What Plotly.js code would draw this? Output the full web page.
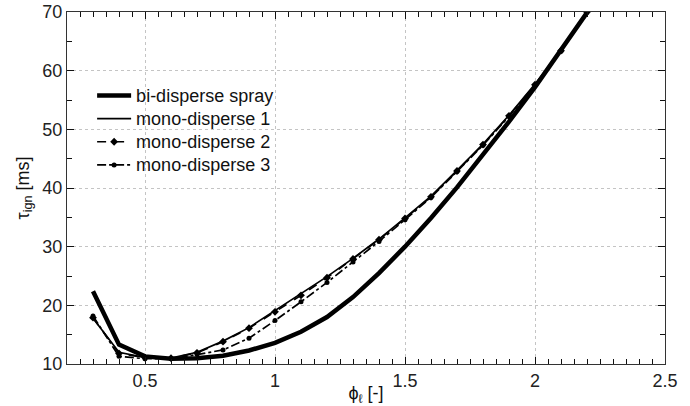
<!DOCTYPE html>
<html>
<head>
<meta charset="utf-8">
<script src="https://cdn.plot.ly/plotly-3.0.1.min.js"></script>
<style>html,body{margin:0;padding:0;background:#fff;}#chart{width:690px;height:406px;}</style>
</head>
<body>
<div id="chart"></div>
<script>
// equivalence ratio phi_l [-]
var phi = [0.3, 0.4, 0.5, 0.6, 0.7, 0.8, 0.9, 1.0, 1.1, 1.2, 1.3, 1.4, 1.5, 1.6, 1.7, 1.8, 1.9, 2.0, 2.1, 2.2];
// ignition delay tau_ign [ms]
var biDisperse   = [22.4, 13.3, 11.3, 10.9, 11.0, 11.4, 12.3, 13.6, 15.5, 18.0, 21.4, 25.5, 30.0, 34.9, 40.1, 45.6, 51.3, 57.2, 63.4, 69.9];
var monoDisp1    = [17.8, 12.0, 11.1, 11.0, 12.0, 13.9, 16.2, 19.1, 21.9, 24.9, 28.0, 31.3, 34.9, 38.6, 43.0, 47.5, 52.4, 57.7, 63.5, 70.0];
var monoDisp2    = [17.9, 11.8, 11.1, 11.0, 11.9, 13.8, 16.1, 18.9, 21.7, 24.7, 27.9, 31.2, 34.8, 38.5, 42.9, 47.4, 52.3, 57.6, 63.4, 70.0];
var monoDisp3    = [18.2, 11.3, 10.9, 10.9, 11.6, 12.4, 14.4, 17.4, 20.6, 23.9, 27.4, 30.9, 34.6, 38.4, 42.8, 47.3, 52.2, 57.5, 63.3, 70.0];
var seriesNames  = ["bi-disperse spray", "mono-disperse 1", "mono-disperse 2", "mono-disperse 3"];

var FONT = "Liberation Sans, Arial, sans-serif";
function legendName(s) { return '<span style="font-size:18px">' + s + '</span>'; }

var traces = [
  {x: phi, y: biDisperse, name: legendName(seriesNames[0]), mode: "lines", line: {color: "#000", width: 4.5}},
  {x: phi, y: monoDisp1, name: legendName(seriesNames[1]), mode: "lines", line: {color: "#000", width: 1.7}},
  {x: phi, y: monoDisp2, name: legendName(seriesNames[2]), mode: "lines+markers", line: {color: "#000", width: 1.7, dash: "dash"},
   marker: {symbol: "diamond", size: 6, color: "#000"}},
  {x: phi, y: monoDisp3, name: legendName(seriesNames[3]), mode: "lines+markers", line: {color: "#000", width: 1.7, dash: "dashdot"},
   marker: {symbol: "circle", size: 5, color: "#000"}}
];

function makeAxis(range, dtick, minorDtick, titleText) {
  return {
    range: range, tickmode: "linear", tick0: 0, dtick: dtick,
    ticks: "inside", ticklen: 7, tickcolor: "#111", tickwidth: 1,
    showline: true, mirror: "allticks", linecolor: "#333", linewidth: 1,
    showgrid: true, gridcolor: "#c4c4c4", griddash: "dot", zeroline: false,
    tickfont: {family: FONT, size: 18, color: "#222"},
    minor: {dtick: minorDtick, ticks: "inside", ticklen: 5, tickcolor: "#111", tickwidth: 1},
    title: {text: titleText, standoff: 4, font: {family: FONT, size: 18, color: "#111"}}
  };
}

var xa = makeAxis([0.2, 2.5], 0.5, 0.05, "ϕ<sub>ℓ</sub> [-]");
var ya = makeAxis([10, 70], 10, 5, "τ<sub>ign</sub> [ms]");
ya.title.standoff = 8;

var layout = {
  width: 690, height: 406,
  margin: {l: 67, r: 25, t: 12, b: 42},
  showlegend: true,
  legend: {x: 0.042, y: 0.81, xanchor: "left", yanchor: "top", bgcolor: "rgba(255,255,255,0)",
           font: {family: FONT, size: 15.5, color: "#111"},
           tracegroupgap: 0, itemwidth: 34},
  xaxis: xa,
  yaxis: ya
};

Plotly.newPlot("chart", traces, layout, {displayModeBar: false, staticPlot: true});
</script>
</body>
</html>
